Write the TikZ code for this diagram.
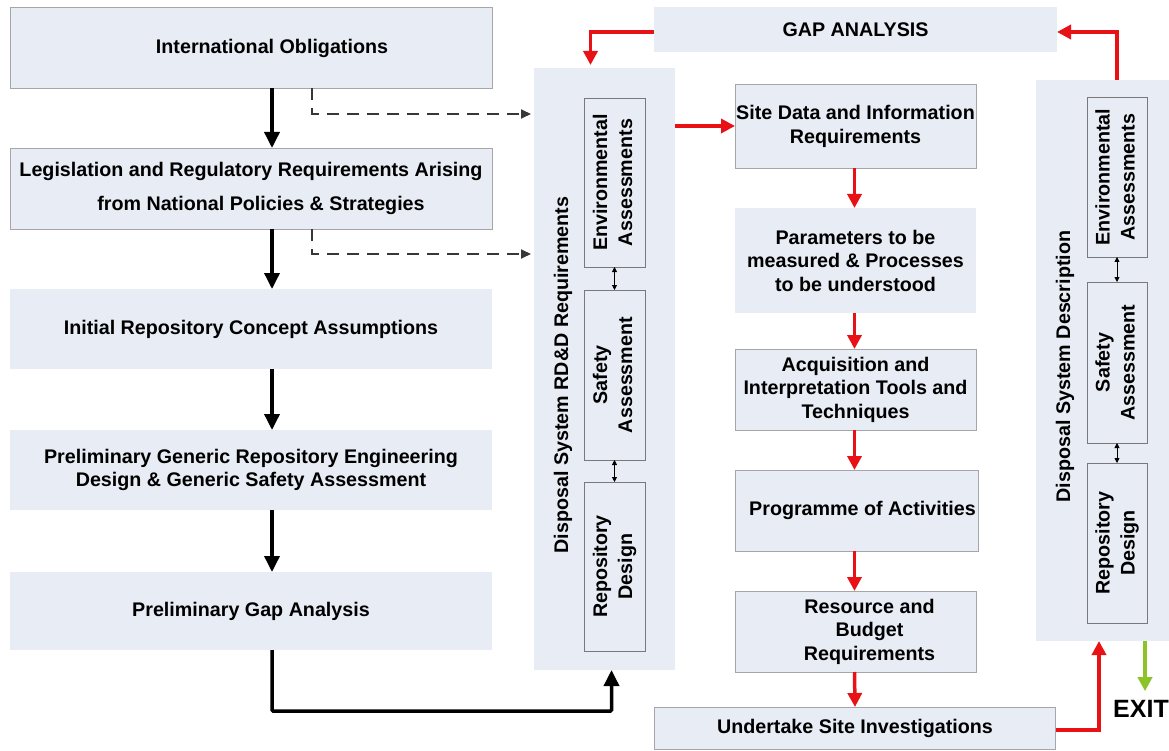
\documentclass[tikz,border=0pt]{standalone}
\usepackage{fontspec}
\setmainfont{Liberation Sans}
\usetikzlibrary{arrows.meta}

\definecolor{boxfill}{RGB}{232,236,244}
\definecolor{boxline}{RGB}{165,165,170}
\definecolor{innerline}{RGB}{120,120,125}
\definecolor{flowred}{RGB}{232,18,22}
\definecolor{exitgreen}{RGB}{140,196,40}
\definecolor{dashgray}{RGB}{55,55,55}

\newcommand{\boxfont}[1]{\fontsize{19.7}{#1}\selectfont\bfseries}
\newcommand{\vtext}[1]{\rotatebox{90}{\begin{tabular}{@{}c@{}}#1\end{tabular}}}

\tikzset{
  base/.style={fill=boxfill, inner sep=0pt, outer sep=0pt, align=center},
  framed/.style={base, draw=boxline, line width=0.8pt},
  plain/.style={base, draw=none},
  inner/.style={base, draw=innerline, line width=0.8pt, minimum width=61pt},
  leftbox/.style={minimum width=482pt},
  midbox/.style={minimum width=241pt},
  blackarrow/.style={line width=3.5pt, -{Triangle[length=16pt,width=15pt]}},
  redarrow/.style={draw=flowred, line width=3.5pt, -{Triangle[length=14pt,width=14pt]}},
  greenarrow/.style={draw=exitgreen, line width=3.5pt, -{Triangle[length=14pt,width=14pt]}},
  dasharrow/.style={draw=dashgray, line width=1.8pt, dash pattern=on 12pt off 8pt, -{Triangle[length=10pt,width=9pt]}},
  twoway/.style={line width=0.8pt, {Triangle[length=5pt,width=5pt]}-{Triangle[length=5pt,width=5pt]}},
}

\begin{document}
\begin{tikzpicture}[x=1pt,y=-1pt]
\useasboundingbox (0,0) rectangle (1169,751);

% left column: national framework
\node[framed, leftbox, minimum height=81pt, font=\boxfont{24}] (intl) at (251,48) {\hspace*{42pt}International Obligations};
\node[framed, leftbox, minimum height=81pt, font=\boxfont{34}] (legis) at (251,188.5)
  {Legislation and Regulatory Requirements Arising\\\hspace*{20pt}from National Policies \& Strategies};
\node[plain, leftbox, minimum height=80pt, font=\boxfont{24}] (init) at (251,329) {Initial Repository Concept Assumptions};
\node[plain, leftbox, minimum height=80pt, font=\boxfont{23}] (pgen) at (251,470)
  {Preliminary Generic Repository Engineering\\Design \& Generic Safety Assessment};
\node[plain, leftbox, minimum height=78pt, font=\boxfont{24}] (pgap) at (251,611) {Preliminary Gap Analysis};

% RD&D requirements column
\node[plain, minimum width=141pt, minimum height=602pt] (rdd) at (604.5,369) {};
\node[plain, fill=none, font=\boxfont{24}] (rddlabel) at (563,375) {\rotatebox{90}{Disposal System RD\&D Requirements}};
\node[inner, minimum height=169pt, font=\boxfont{25}] (env1) at (614.5,182.5) {\vtext{Environmental\\Assessments}};
\node[inner, minimum height=170pt, font=\boxfont{25}] (saf1) at (614.5,375) {\vtext{Safety\\Assessment}};
\node[inner, minimum height=169pt, font=\boxfont{25}] (rep1) at (614.5,566.5) {\vtext{Repository\\Design}};

% gap analysis
\node[plain, minimum width=403pt, minimum height=45pt, font=\boxfont{24}] (gap) at (855.5,30) {GAP ANALYSIS};

% site investigation chain
\node[framed, midbox, minimum height=84pt, font=\boxfont{24}] (site) at (855.5,126) {Site Data and Information\\Requirements};
\node[plain, midbox, minimum height=105pt, font=\boxfont{23.5}] (params) at (855.5,260.5)
  {Parameters to be\\measured \& Processes\\to be understood};
\node[framed, midbox, minimum height=81pt, font=\boxfont{23.5}] (acq) at (855.5,389.5)
  {Acquisition and\\Interpretation Tools and\\Techniques};
\node[framed, minimum width=243pt, minimum height=81pt, font=\boxfont{24}] (prog) at (856.5,510.5) {\hspace*{12pt}Programme of Activities};
\node[framed, midbox, minimum height=81pt, font=\boxfont{23.5}] (res) at (855.5,631.5)
  {\hspace*{28pt}Resource and\\\hspace*{28pt}Budget\\\hspace*{28pt}Requirements};
\node[framed, minimum width=401pt, minimum height=42pt, font=\boxfont{24}] (under) at (855,728) {Undertake Site Investigations};

% system description column
\node[plain, minimum width=134pt, minimum height=561pt] (dsd) at (1103,360.5) {};
\node[plain, fill=none, font=\boxfont{24}] (dsdlabel) at (1065,366.5) {\rotatebox{90}{Disposal System Description}};
\node[inner, minimum width=60pt, minimum height=160pt, font=\boxfont{25}] (env2) at (1117,177) {\vtext{Environmental\\Assessments}};
\node[inner, minimum width=60pt, minimum height=161pt, font=\boxfont{25}] (saf2) at (1117,362.5) {\vtext{Safety\\Assessment}};
\node[inner, minimum width=60pt, minimum height=160pt, font=\boxfont{25}] (rep2) at (1117,543) {\vtext{Repository\\Design}};

\node[inner sep=0pt, font=\fontsize{25}{28}\selectfont\bfseries] (exit) at (1141,709) {EXIT};

% main sequence
\draw[blackarrow] ([xshift=21pt]intl.south) -- ([xshift=21pt]legis.north);
\draw[blackarrow] ([xshift=21pt]legis.south) -- ([xshift=21pt]init.north);
\draw[blackarrow] ([xshift=21pt]init.south) -- ([xshift=21pt]pgen.north);
\draw[blackarrow] ([xshift=21pt]pgen.south) -- ([xshift=21pt]pgap.north);
\draw[blackarrow, rounded corners=1pt] ([xshift=21pt]pgap.south) -- ++(0,61) -| ([xshift=7pt]rdd.south);

% inputs to RD&D requirements
\draw[dasharrow] ([xshift=61pt]intl.south) |- ([xshift=-3pt,yshift=255pt]rdd.west);
\draw[dasharrow] ([xshift=61pt]legis.south) |- ([xshift=-3pt,yshift=115pt]rdd.west);

% links inside the columns
\draw[twoway] (env1.south) -- (saf1.north);
\draw[twoway] (saf1.south) -- (rep1.north);
\draw[twoway] (env2.south) -- (saf2.north);
\draw[twoway] (saf2.south) -- (rep2.north);

% iteration loop
\draw[redarrow] (rdd.east |- site.west) -- (site.west);
\draw[redarrow] ([xshift=-1pt]site.south) -- ([xshift=-1pt]params.north);
\draw[redarrow] ([xshift=-1pt]params.south) -- ([xshift=-1pt]acq.north);
\draw[redarrow] ([xshift=-1pt]acq.south) -- ([xshift=-2pt]prog.north);
\draw[redarrow] ([xshift=-2pt]prog.south) -- ([xshift=-1pt]res.north);
\draw[redarrow] ([xshift=-1pt]res.south) -- (under.north);
\draw[redarrow] ([yshift=-2pt]under.east) -| ([xshift=-4pt]dsd.south);
\draw[redarrow] ([xshift=14pt]dsd.north) |- ([yshift=-2pt]gap.east);
\draw[redarrow] ([yshift=-2pt]gap.west) -| ([xshift=-14pt,yshift=3pt]rdd.north);

% exit
\draw[greenarrow] ([xshift=42pt]dsd.south) -- ([xshift=4pt,yshift=9pt]exit.north);
\end{tikzpicture}
\end{document}
